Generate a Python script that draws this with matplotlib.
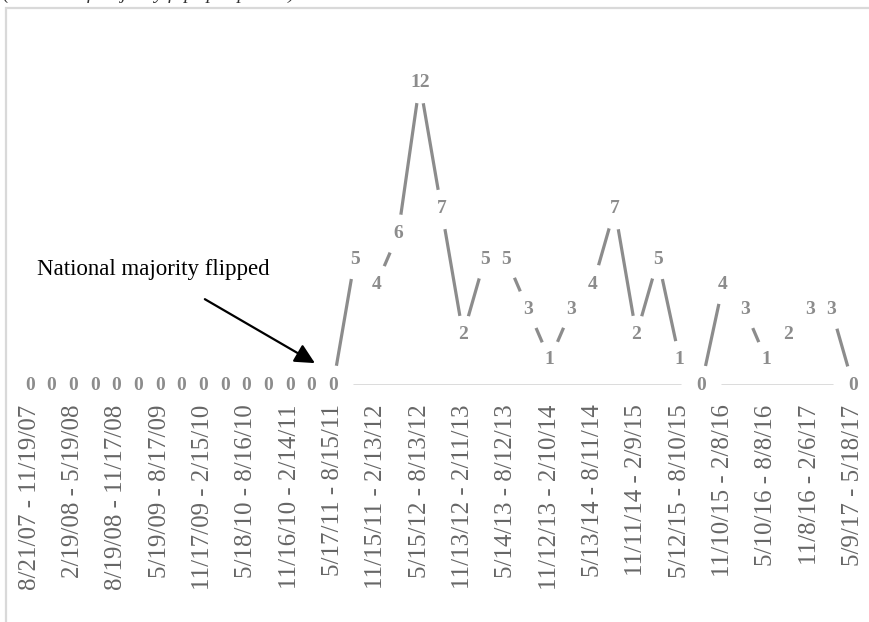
import matplotlib.pyplot as plt
from matplotlib.patches import Rectangle

# Values per period (one point per period, labels shown on every other period)
values = [0, 0, 0, 0, 0, 0, 0, 0, 0, 0, 0, 0, 0, 0, 0,
          5, 4, 6, 12, 7, 2, 5, 5, 3, 1, 3, 4, 7, 2, 5, 1,
          0, 4, 3, 1, 2, 3, 3, 0]

tick_labels = ['8/21/07 - 11/19/07', '2/19/08 - 5/19/08', '8/19/08 - 11/17/08',
               '5/19/09 - 8/17/09', '11/17/09 - 2/15/10', '5/18/10 - 8/16/10',
               '11/16/10 - 2/14/11', '5/17/11 - 8/15/11', '11/15/11 - 2/13/12',
               '5/15/12 - 8/13/12', '11/13/12 - 2/11/13', '5/14/13 - 8/12/13',
               '11/12/13 - 2/10/14', '5/13/14 - 8/11/14', '11/11/14 - 2/9/15',
               '5/12/15 - 8/10/15', '11/10/15 - 2/8/16', '5/10/16 - 8/8/16',
               '11/8/16 - 2/6/17', '5/9/17 - 5/18/17']

annotation = 'National majority flipped'

x = list(range(len(values)))

fig = plt.figure(figsize=(8.7, 6.22), dpi=100)
ax = fig.add_axes([0.0218, 0.381, 0.9712, 0.5666])

# light chart border (left and top edges visible)
fig.patches.append(Rectangle((6 / 870, -0.2), 1.2, 1.2 - 7.5 / 622,
                             transform=fig.transFigure, fill=False,
                             edgecolor='#d9d9d9', linewidth=1.6))

# partly cut-off caption at the very top
fig.text(0.004, 1 + 1.5 / 622, '(Number of majority flips per period)',
         fontsize=14, style='italic', family='Liberation Serif',
         color='#333333', va='baseline')

# horizontal axis line
ax.axhline(0, color='#d9d9d9', linewidth=1.3, zorder=1)

# the series: white markers hide the line around each data label
ax.plot(x, values, color='#8c8c8c', linewidth=2.3, marker='o', markersize=28.8,
        markerfacecolor='white', markeredgecolor='none', zorder=2, clip_on=False)

for xi, v in zip(x, values):
    ax.text(xi, v, str(v), ha='center', va='center', fontsize=14,
            family='Liberation Serif', fontweight='bold', color='#8c8c8c', zorder=4)

ax.annotate('', xy=(13.16, 0.87), xytext=(8.08, 3.41),
            arrowprops=dict(arrowstyle='-|>,head_length=0.6,head_width=0.3',
                            color='black', lw=1.6, mutation_scale=20,
                            shrinkA=0, shrinkB=0))
ax.text(0.32, 4.37, annotation, fontsize=16.5, family='Liberation Serif',
        color='black', va='baseline', ha='left')

ax.set_xlim(-0.5, len(values) - 0.5)
ax.set_ylim(0, 14)
ax.set_xticks(x[::2])
ax.set_xticklabels(tick_labels, rotation=90, fontsize=18, family='Liberation Serif',
                   color='#666666')
ax.tick_params(axis='x', length=0, pad=14)
ax.set_yticks([])
for side in ['top', 'right', 'left', 'bottom']:
    ax.spines[side].set_visible(False)

fig.savefig('out.png', dpi=100)
